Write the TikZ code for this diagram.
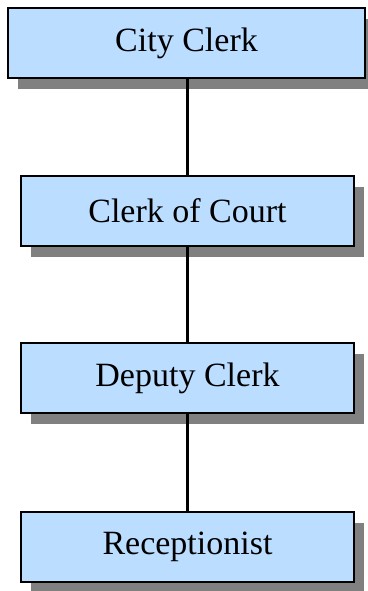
\documentclass[tikz,border=0pt]{standalone}
\usepackage{fontspec}
\setmainfont{Liberation Serif}
\usetikzlibrary{shadows}
\definecolor{boxfill}{RGB}{187,221,255}
\definecolor{shadowgray}{RGB}{128,128,128}
\begin{document}
\begin{tikzpicture}[x=1pt,y=-1pt,
  rolebox/.style={draw=black, line width=2.5pt, fill=boxfill,
    minimum height=70pt, inner sep=0pt,
    font=\fontsize{34}{40}\selectfont,
    drop shadow={shadow xshift=10pt, shadow yshift=-11pt,
      fill=shadowgray, opacity=1}},
  link/.style={draw=black, line width=2.5pt}]
  \useasboundingbox (0,0) rectangle (367,591);
  \node[rolebox, minimum width=357pt] (city) at (186.5,43) {City Clerk};
  \node[rolebox, minimum width=333pt] (court) at (187.5,211) {Clerk of Court};
  \node[rolebox, minimum width=333pt] (deputy) at (187.5,378) {Deputy Clerk};
  \node[rolebox, minimum width=333pt] (recep) at (187.5,547) {Receptionist};
  \draw[link] (city.south -| court.north) -- (court.north);
  \draw[link] (court.south) -- (deputy.north);
  \draw[link] (deputy.south) -- (recep.north);
\end{tikzpicture}
\end{document}
